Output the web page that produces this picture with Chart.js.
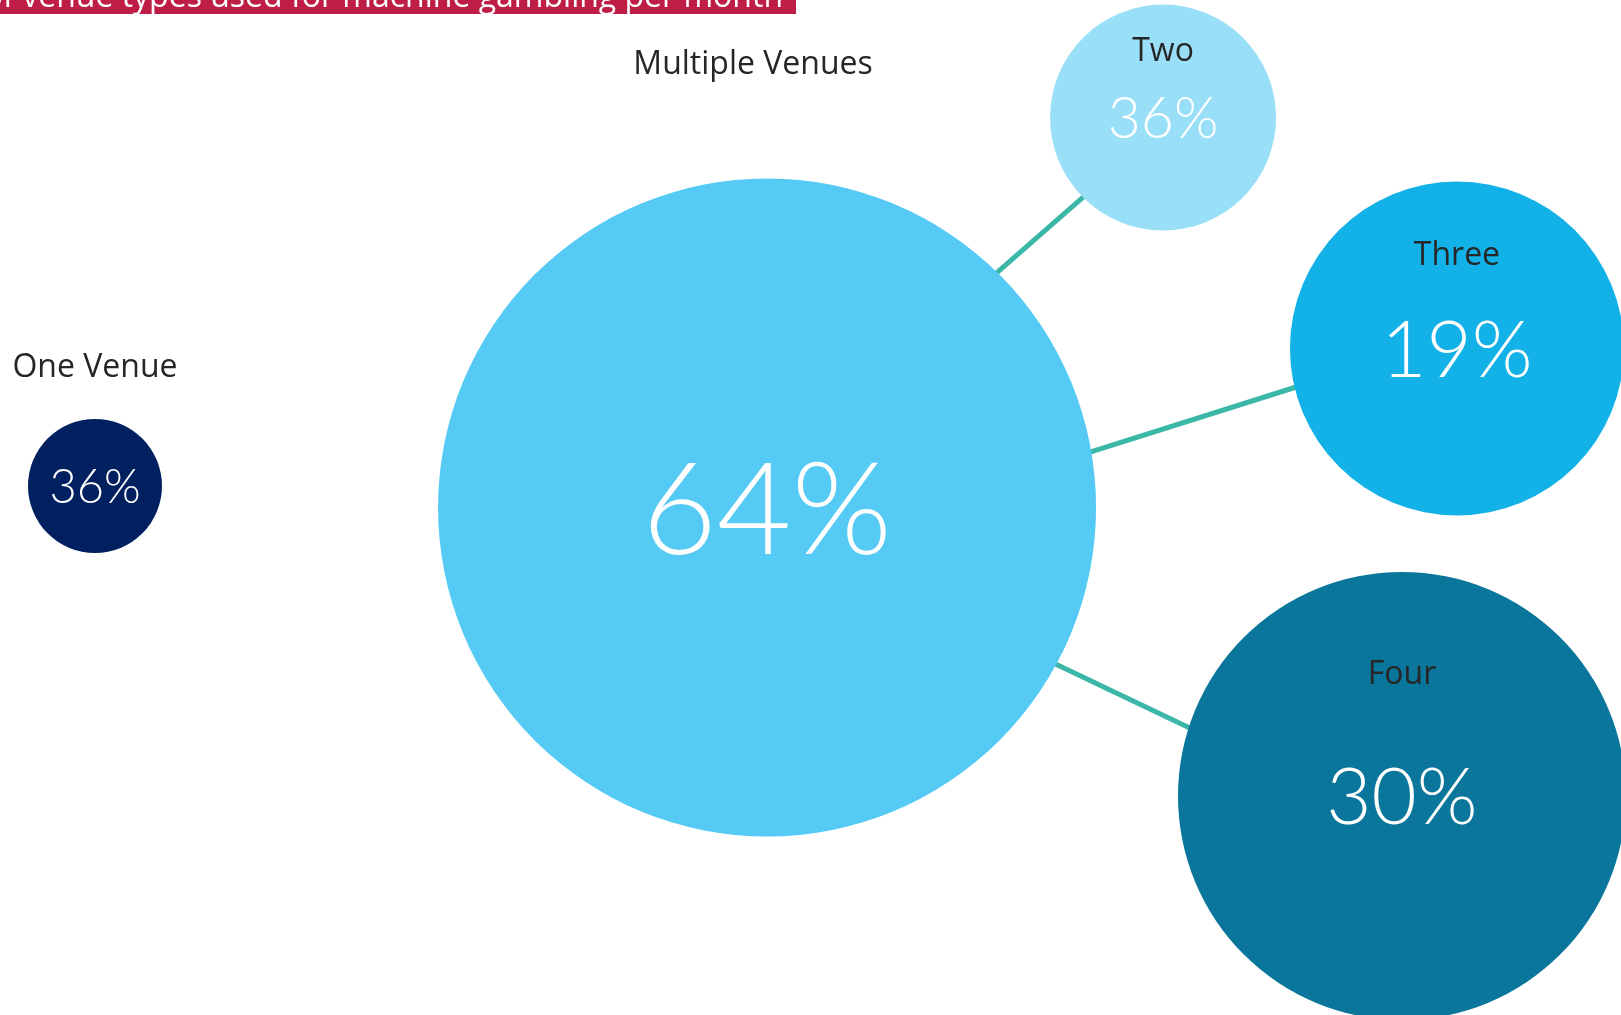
<!DOCTYPE html>
<html>
<head>
<meta charset="utf-8">
<script src="https://cdn.jsdelivr.net/npm/chart.js@4"></script>
<style>
  html, body { margin: 0; padding: 0; background: #fff; }
  #wrap { position: relative; width: 1621px; height: 1015px; overflow: hidden; }
</style>
</head>
<body>
<div id="wrap"><canvas id="venueChart" width="1621" height="1015"></canvas></div>
<script>
const TITLE = 'Number of venue types used for machine gambling per month';

// share of gamblers by number of venue types used
const groupLabels = ['One Venue', 'Multiple Venues'];
const groupShares = [36, 64];

// split of the multiple-venue group
const multiLabels = ['Two', 'Three', 'Four'];
const multiShares = [36, 19, 30];

// layout: positions on a 0-100 grid, radius in px
const groupPos = [{ x: 5.86, y: 47.88, r: 67 }, { x: 47.32, y: 50.0, r: 329 }];
const multiPos = [{ x: 71.75, y: 11.58, r: 113 }, { x: 89.88, y: 34.33, r: 167 }, { x: 86.49, y: 78.42, r: 224 }];
const links = [
  [{ x: 61.20, y: 27.29 }, { x: 67.12, y: 19.01 }],
  [{ x: 66.56, y: 44.88 }, { x: 80.26, y: 37.98 }],
  [{ x: 64.53, y: 64.98 }, { x: 73.85, y: 72.07 }]
];

const groupColors = ['#002060', '#55caf4'];
const multiColors = ['#99dff8', '#12b1e7', '#0b769b'];
const groupValueSize = [47, 129];
const multiValueSize = [57, 78, 78];
// names for the two groups sit above their bubbles
const groupNameOffset = [{ dx: 0, dy: -109 }, { dx: -14, dy: -434 }];

const VALUE_FONT = 'Lato, "Open Sans", sans-serif';
const NAME_FONT = '"Open Sans", Lato, sans-serif';

const bubbleText = {
  id: 'bubbleText',
  afterDatasetsDraw(chart) {
    const ctx = chart.ctx;
    ctx.save();
    ctx.textAlign = 'center';
    ctx.textBaseline = 'alphabetic';
    chart.data.datasets.forEach((ds, di) => {
      if (ds.type !== 'bubble') return;
      chart.getDatasetMeta(di).data.forEach((pt, i) => {
        const d = ds.data[i];
        const size = ds.valueSize[i];
        ctx.fillStyle = '#ffffff';
        ctx.font = '300 ' + size + 'px ' + VALUE_FONT;
        ctx.fillText(d.v + '%', pt.x, pt.y + size * 0.36);

        ctx.fillStyle = '#262626';
        ctx.font = '400 32px ' + NAME_FONT;
        if (ds.nameOffset) {
          ctx.fillText(d.name, pt.x + ds.nameOffset[i].dx, pt.y + ds.nameOffset[i].dy);
        } else {
          ctx.fillText(d.name, pt.x, pt.y - d.r * 0.5);
        }
      });
    });
    ctx.restore();
  },
  afterDraw(chart) {
    // title banner, pushed up past the top edge
    const ctx = chart.ctx;
    ctx.save();
    ctx.fillStyle = '#be1e46';
    ctx.fillRect(0, 0, 796, 14);
    ctx.fillStyle = '#ffffff';
    ctx.font = '400 32px ' + NAME_FONT;
    ctx.textAlign = 'right';
    ctx.textBaseline = 'alphabetic';
    ctx.fillText(TITLE, 783, 7);
    ctx.restore();
  }
};

const toPoints = (labels, shares, pos) =>
  shares.map((v, i) => ({ x: pos[i].x, y: pos[i].y, r: pos[i].r, v, name: labels[i] }));

const datasets = [
  {
    type: 'bubble',
    data: toPoints(groupLabels, groupShares, groupPos),
    backgroundColor: groupColors,
    valueSize: groupValueSize,
    nameOffset: groupNameOffset,
    order: 1
  },
  {
    type: 'bubble',
    data: toPoints(multiLabels, multiShares, multiPos),
    backgroundColor: multiColors,
    valueSize: multiValueSize,
    order: 1
  }
].concat(links.map(seg => ({
  type: 'line',
  data: seg,
  borderColor: '#3bb7a8',
  borderWidth: 5,
  pointRadius: 0,
  order: 2
})));

datasets.forEach(ds => {
  ds.borderWidth = ds.type === 'line' ? ds.borderWidth : 0;
  ds.hoverRadius = 0;
  ds.clip = false;
});

new Chart(document.getElementById('venueChart').getContext('2d'), {
  type: 'bubble',
  data: { datasets },
  options: {
    responsive: false,
    animation: false,
    events: [],
    layout: { autoPadding: false, padding: 0 },
    plugins: { legend: { display: false }, tooltip: { enabled: false } },
    scales: {
      x: { type: 'linear', min: 0, max: 100, display: false },
      y: { type: 'linear', min: 0, max: 100, reverse: true, display: false }
    }
  },
  plugins: [bubbleText]
});
</script>
</body>
</html>
